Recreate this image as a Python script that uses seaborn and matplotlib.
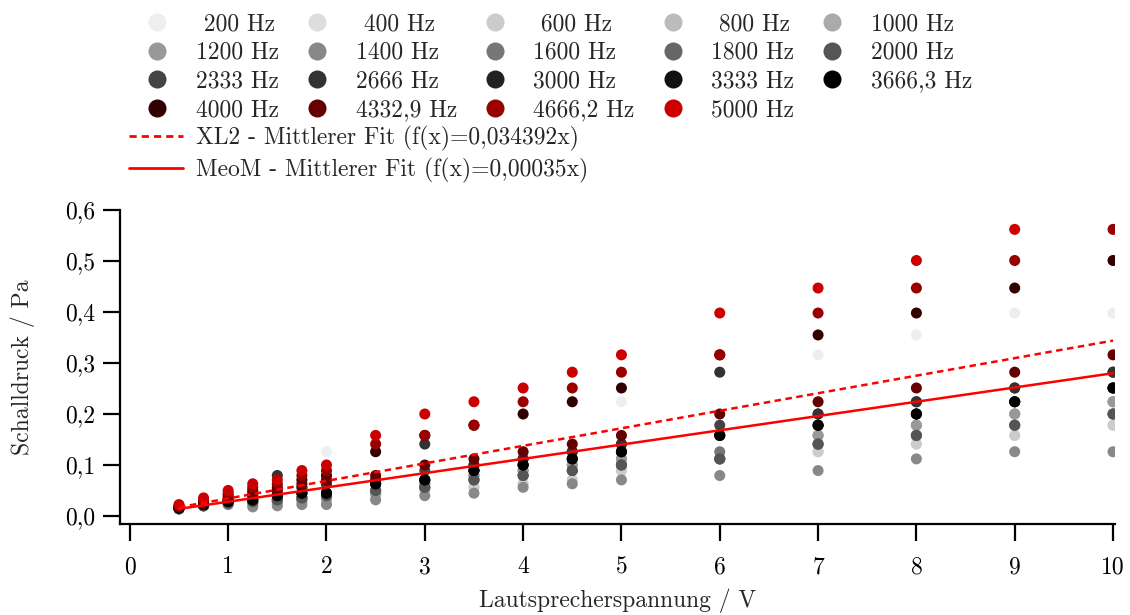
import matplotlib
matplotlib.use("Agg")
import matplotlib.pyplot as plt
from matplotlib.lines import Line2D
import numpy as np
import pandas as pd
import seaborn as sns

# Loudspeaker voltage steps (V)
voltages = [0.5, 0.75, 1, 1.25, 1.5, 1.75, 2, 2.5, 3, 3.5, 4, 4.5, 5, 6, 7, 8, 9, 10]

freq_labels = [" 200 Hz", " 400 Hz", " 600 Hz", " 800 Hz", "1000 Hz",
               "1200 Hz", "1400 Hz", "1600 Hz", "1800 Hz", "2000 Hz",
               "2333 Hz", "2666 Hz", "3000 Hz", "3333 Hz", "3666,3 Hz",
               "4000 Hz", "4332,9 Hz", "4666,2 Hz", "5000 Hz"]
freq_colors = ["#eeeeee", "#dddddd", "#cccccc", "#bbbbbb", "#aaaaaa",
               "#999999", "#888888", "#777777", "#666666", "#555555",
               "#444444", "#333333", "#222222", "#111111", "#000000",
               "#330000", "#660000", "#990000", "#cc0000"]

# Measured sound pressure (Pa) per frequency, one value per voltage step
p_200 = [0.0178, 0.0282, 0.0398, 0.0501, 0.0631, 0.0708, 0.126, 0.126, 0.158, 0.178, 0.2, 0.224, 0.224, 0.316, 0.316, 0.355, 0.398, 0.398]
p_400 = [0.0141, 0.02, 0.0224, 0.02, 0.0224, 0.0282, 0.0282, 0.0398, 0.0501, 0.0562, 0.0631, 0.0708, 0.0891, 0.112, 0.126, 0.141, 0.158, 0.178]
p_600 = [0.0141, 0.02, 0.0224, 0.02, 0.0224, 0.0282, 0.0282, 0.0398, 0.0501, 0.0562, 0.0631, 0.0708, 0.0891, 0.112, 0.126, 0.141, 0.158, 0.178]
p_800 = [0.0141, 0.02, 0.0251, 0.0251, 0.0282, 0.0316, 0.0355, 0.0447, 0.0631, 0.0794, 0.0891, 0.1, 0.112, 0.112, 0.158, 0.178, 0.2, 0.224]
p_1000 = [0.0141, 0.02, 0.0251, 0.0251, 0.0282, 0.0316, 0.0355, 0.0447, 0.0631, 0.0794, 0.0891, 0.1, 0.112, 0.112, 0.158, 0.178, 0.2, 0.224]
p_1200 = [0.0141, 0.02, 0.0251, 0.0251, 0.0282, 0.0316, 0.0355, 0.0447, 0.0631, 0.0794, 0.0891, 0.1, 0.112, 0.112, 0.158, 0.178, 0.2, 0.224]
p_1400 = [0.0141, 0.02, 0.0224, 0.0178, 0.02, 0.0224, 0.0224, 0.0316, 0.0398, 0.0447, 0.0562, 0.0631, 0.0708, 0.0794, 0.0891, 0.112, 0.126, 0.126]
p_1600 = [0.0141, 0.02, 0.0251, 0.0282, 0.0316, 0.0355, 0.0398, 0.0501, 0.0562, 0.0708, 0.0794, 0.0891, 0.1, 0.126, 0.141, 0.158, 0.178, 0.2]
p_1800 = [0.0141, 0.02, 0.0251, 0.0282, 0.0316, 0.0355, 0.0398, 0.0501, 0.0562, 0.0708, 0.0794, 0.0891, 0.1, 0.112, 0.141, 0.158, 0.178, 0.2]
p_2000 = [0.0141, 0.02, 0.0251, 0.0282, 0.0316, 0.0355, 0.0398, 0.0501, 0.0562, 0.0708, 0.0794, 0.0891, 0.1, 0.112, 0.141, 0.158, 0.178, 0.2]
p_2333 = [0.0158, 0.0251, 0.0316, 0.0398, 0.0447, 0.0562, 0.0631, 0.0708, 0.0891, 0.1, 0.112, 0.126, 0.141, 0.178, 0.2, 0.224, 0.251, 0.282]
p_2666 = [0.0158, 0.0251, 0.0316, 0.0398, 0.0794, 0.0562, 0.0631, 0.0708, 0.141, 0.1, 0.112, 0.126, 0.141, 0.282, 0.2, 0.224, 0.251, 0.282]
p_3000 = [0.0158, 0.0224, 0.0282, 0.0316, 0.0398, 0.0447, 0.0447, 0.0631, 0.0708, 0.0891, 0.1, 0.112, 0.126, 0.158, 0.178, 0.2, 0.224, 0.251]
p_3333 = [0.0158, 0.0224, 0.0282, 0.0316, 0.0398, 0.0447, 0.0447, 0.0631, 0.0708, 0.0891, 0.1, 0.112, 0.126, 0.158, 0.178, 0.2, 0.224, 0.251]
p_3666 = [0.0158, 0.0224, 0.0282, 0.0316, 0.0398, 0.0447, 0.0447, 0.0631, 0.0708, 0.0891, 0.1, 0.112, 0.126, 0.158, 0.178, 0.2, 0.224, 0.251]
p_4000 = [0.0178, 0.0282, 0.0398, 0.0501, 0.0562, 0.0708, 0.0794, 0.126, 0.158, 0.178, 0.2, 0.224, 0.251, 0.316, 0.355, 0.398, 0.447, 0.501]
p_4333 = [0.0178, 0.0251, 0.0355, 0.0447, 0.0501, 0.0631, 0.0708, 0.0794, 0.1, 0.112, 0.126, 0.141, 0.158, 0.2, 0.224, 0.251, 0.282, 0.316]
p_4666 = [0.02, 0.0316, 0.0447, 0.0562, 0.0631, 0.0794, 0.0891, 0.141, 0.158, 0.178, 0.224, 0.251, 0.282, 0.316, 0.398, 0.447, 0.501, 0.562]
p_5000 = [0.0224, 0.0355, 0.0501, 0.0631, 0.0708, 0.0891, 0.1, 0.158, 0.2, 0.224, 0.251, 0.282, 0.316, 0.398, 0.447, 0.501, 0.562, 0.631]

pressures = [p_200, p_400, p_600, p_800, p_1000, p_1200, p_1400, p_1600,
             p_1800, p_2000, p_2333, p_2666, p_3000, p_3333, p_3666,
             p_4000, p_4333, p_4666, p_5000]

# Mean linear fits
xl2_slope = 0.034392
meom_slope = 0.028
xl2_label = "XL2 - Mittlerer Fit (f(x)=0,034392x)"
meom_label = "MeoM - Mittlerer Fit (f(x)=0,00035x)"

x_ticks = [0, 1, 2, 3, 4, 5, 6, 7, 8, 9, 10]
y_ticks = [0.0, 0.1, 0.2, 0.3, 0.4, 0.5, 0.6]
y_tick_labels = ["0,0", "0,1", "0,2", "0,3", "0,4", "0,5", "0,6"]

rows = []
for label, values in zip(freq_labels, pressures):
    for u, p in zip(voltages, values):
        rows.append({"U": u, "p": p, "f": label})
df = pd.DataFrame(rows)

sns.set_style("ticks")
plt.rcParams["font.family"] = ["cmr10", "DejaVu Serif"]
plt.rcParams["axes.formatter.use_mathtext"] = True
fs = 17

W, H = 1130, 615
fig = plt.figure(figsize=(W / 100, H / 100), dpi=100)
ax = fig.add_axes([120 / W, (H - 524) / H, 995 / W, 314 / H])

palette = dict(zip(freq_labels, freq_colors))
sns.scatterplot(data=df, x="U", y="p", hue="f", hue_order=freq_labels,
                palette=palette, s=63, linewidth=0, legend=False, ax=ax,
                zorder=2)

dotted = (0, (2.6, 1.8))
fit_x = np.array([voltages[0], voltages[-1]])
sns.lineplot(x=fit_x, y=xl2_slope * fit_x, color="#ff0000", lw=1.8,
             linestyle=dotted, sort=False, estimator=None, ax=ax, zorder=3)
sns.lineplot(x=fit_x, y=meom_slope * fit_x, color="#ff0000", lw=1.8,
             sort=False, estimator=None, ax=ax, zorder=3)

ax.set_xlim(-0.1, 10.02)
ax.set_ylim(-0.0157, 0.6)
ax.set_xticks(x_ticks)
ax.set_xticklabels([str(t) for t in x_ticks])
ax.set_yticks(y_ticks)
ax.set_yticklabels(y_tick_labels)
for side in ("top", "right"):
    ax.spines[side].set_visible(False)
for side in ("left", "bottom"):
    ax.spines[side].set_linewidth(1.6)
    ax.spines[side].set_color("black")
ax.tick_params(axis="both", direction="out", length=12, width=1.6,
               colors="black", labelsize=fs)
ax.tick_params(axis="x", pad=11)
ax.tick_params(axis="y", pad=6)

ax.set_xlabel("Lautsprecherspannung / V", fontsize=fs)
ax.set_ylabel("Schalldruck / Pa", fontsize=fs)
ax.xaxis.set_label_coords(0.5, -0.205)
ax.yaxis.set_label_coords(-0.085, 0.5)

# Frequency legend: 5 columns, filled row by row
ncol = 5
order = []
for c in range(ncol):
    r = 0
    while r * ncol + c < len(freq_labels):
        order.append(r * ncol + c)
        r += 1
marker_handles = [Line2D([], [], marker="o", ls="none", markersize=13,
                         markerfacecolor=freq_colors[i], markeredgewidth=0)
                  for i in order]
fig.legend(marker_handles, [freq_labels[i] for i in order], ncol=ncol,
           loc="upper left", bbox_to_anchor=(145 / W, 1 - 13 / H),
           frameon=False, borderpad=0, borderaxespad=0, handlelength=1.0,
           handletextpad=1.15, columnspacing=1.1, labelspacing=0.28,
           fontsize=fs)

line_handles = [Line2D([], [], color="#ff0000", lw=2.0, linestyle=dotted),
                Line2D([], [], color="#ff0000", lw=2.0)]
fig.legend(line_handles, [xl2_label, meom_label], loc="upper left",
           bbox_to_anchor=(129 / W, 1 - 126 / H), frameon=False, borderpad=0,
           borderaxespad=0, handlelength=2.29, handletextpad=0.55,
           labelspacing=0.3, fontsize=fs)

fig.savefig("out.png", dpi=100)
